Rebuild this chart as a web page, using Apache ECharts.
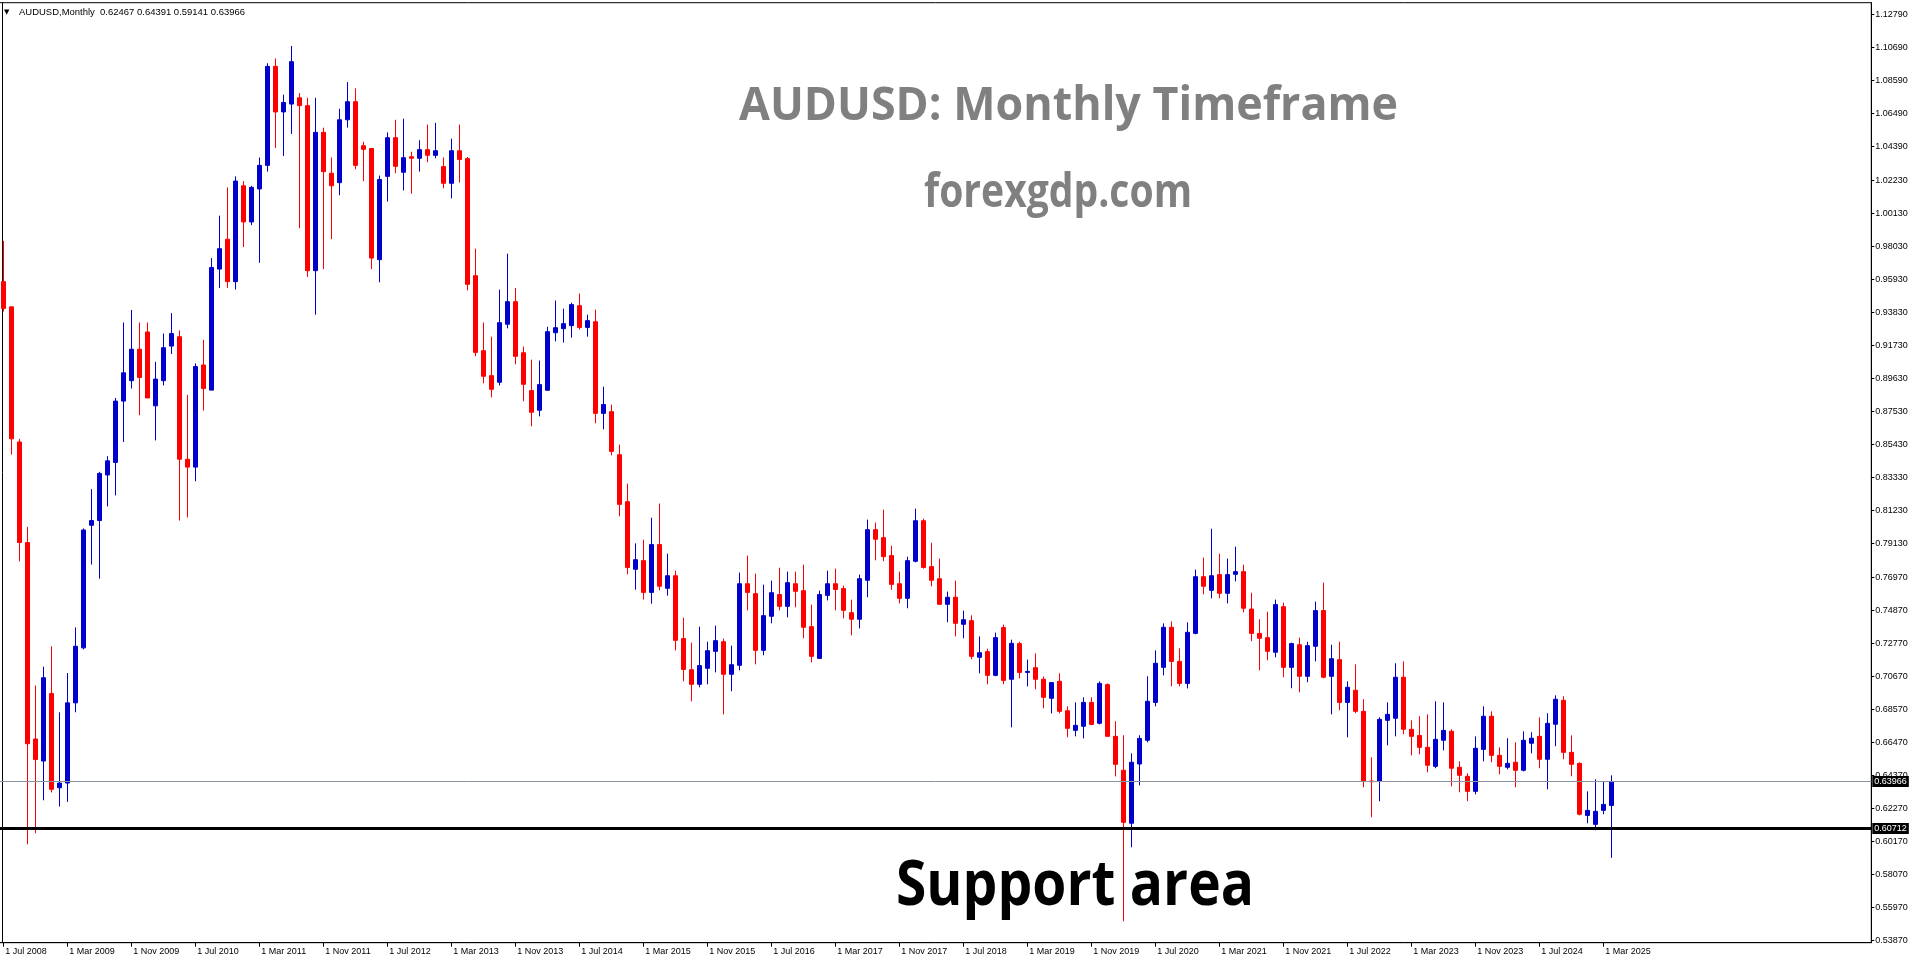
<!DOCTYPE html>
<html><head><meta charset="utf-8">
<script src="https://cdn.jsdelivr.net/npm/echarts@6/dist/echarts.min.js"></script>
<style>html,body{margin:0;padding:0;background:#fff;overflow:hidden}#c{width:1916px;height:964px}</style>
</head><body><div id="c"></div>
<script>
// ---------- DATA ----------
const monthNames = ['Jan','Feb','Mar','Apr','May','Jun','Jul','Aug','Sep','Oct','Nov','Dec'];
const firstYear = 2008, firstMonthIdx = 6; // 1 Jul 2008
const barCount = 202;                       // Jul 2008 .. Apr 2025
const categories = [];
for (let i = 0; i < barCount; i++) {
  const m = firstMonthIdx + i;
  categories.push('1 ' + monthNames[m % 12] + ' ' + (firstYear + Math.floor(m / 12)));
}
const opens = [
0.958,0.942,0.856,0.792,0.667,0.653,0.696,0.636,0.639,0.690,0.725,0.803,0.806,0.835,0.843,0.882,0.895,0.915,0.926,0.879,
0.895,0.917,0.923,0.845,0.840,0.905,0.889,0.966,0.985,0.958,1.019,0.996,1.017,1.032,1.095,1.066,1.071,1.075,1.070,0.965,
1.053,1.027,1.021,1.061,1.0725,1.0445,1.0427,0.972,1.025,1.0496,1.0276,1.0375,1.0365,1.042,1.0384,1.0312,1.0206,1.0413,1.0363,0.9618,
0.9141,0.8982,0.894,0.9309,0.9453,0.9128,0.8887,0.8762,0.8889,0.9255,0.9281,0.930,0.9427,0.9289,0.9325,0.8742,0.8753,0.8479,0.818,0.775,
0.7805,0.7603,0.7907,0.7629,0.7709,0.7309,0.7111,0.7018,0.712,0.7228,0.7289,0.7082,0.7139,0.7658,0.7595,0.7234,0.7451,0.7589,0.7514,0.7658,
0.7614,0.7385,0.7183,0.7584,0.7658,0.7627,0.7474,0.7432,0.768,0.8002,0.7951,0.7837,0.7658,0.7565,0.7801,0.8059,0.7767,0.769,0.7527,0.7572,
0.74,0.7423,0.719,0.7226,0.7075,0.7379,0.705,0.7277,0.7094,0.7124,0.705,0.6929,0.7037,0.685,0.6725,0.6751,0.6903,0.677,0.7016,0.6687,
0.6471,0.6134,0.6511,0.6662,0.6903,0.7126,0.7381,0.7164,0.7024,0.7342,0.7703,0.7616,0.7716,0.7597,0.7718,0.7735,0.7497,0.7342,0.7315,0.7222,
0.7512,0.7126,0.727,0.7069,0.726,0.7487,0.7069,0.7175,0.6903,0.698,0.6846,0.6403,0.6403,0.6789,0.6802,0.7063,0.6732,0.6693,0.6617,0.6496,
0.6662,0.6719,0.649,0.6433,0.6337,0.6604,0.6815,0.6566,0.649,0.6522,0.6471,0.6643,0.6687,0.6541,0.6764,0.6916,0.6585,0.6515,0.6184,0.6127,
0.6216,0.62467];
const highs = [
0.984,0.942,0.858,0.802,0.701,0.713,0.726,0.684,0.709,0.738,0.801,0.826,0.837,0.847,0.884,0.932,0.940,0.932,0.932,0.907,
0.925,0.938,0.927,0.886,0.906,0.921,0.973,1.000,1.018,1.025,1.022,1.019,1.037,1.097,1.100,1.077,1.108,1.078,1.075,1.075,
1.056,1.037,1.068,1.085,1.081,1.047,1.043,1.0255,1.053,1.061,1.0617,1.0407,1.048,1.058,1.059,1.037,1.049,1.058,1.0373,0.979,
0.932,0.923,0.9529,0.9758,0.954,0.9167,0.9084,0.9078,0.9293,0.946,0.9408,0.9446,0.9504,0.937,0.9402,0.8912,0.8798,0.8543,0.8295,0.7915,
0.7938,0.8078,0.8168,0.7849,0.7741,0.7442,0.7283,0.7385,0.7289,0.7391,0.7309,0.7264,0.7729,0.7837,0.7722,0.7652,0.7678,0.776,0.7735,0.7735,
0.7779,0.7525,0.7614,0.7741,0.7754,0.7646,0.7557,0.7716,0.8066,0.8047,0.8129,0.79,0.7735,0.783,0.8136,0.8072,0.7919,0.7818,0.7608,0.7678,
0.7487,0.7457,0.7323,0.7245,0.7347,0.7398,0.7302,0.7289,0.7175,0.7215,0.7067,0.7031,0.7088,0.6878,0.6903,0.6935,0.6935,0.7037,0.7024,0.6783,
0.6694,0.6579,0.6694,0.7069,0.7234,0.7406,0.7419,0.7247,0.7412,0.7748,0.7824,0.8008,0.7849,0.7818,0.7894,0.7779,0.7601,0.7432,0.748,0.7557,
0.7538,0.7283,0.7315,0.7289,0.7544,0.7665,0.727,0.7289,0.7037,0.7145,0.6923,0.6554,0.6808,0.6903,0.7152,0.7164,0.6789,0.6815,0.6827,0.691,
0.6903,0.6732,0.6528,0.6452,0.6687,0.6878,0.6846,0.6617,0.6675,0.6649,0.6719,0.6713,0.6808,0.6834,0.6948,0.6942,0.6693,0.6522,0.6337,0.6414,
0.6401,0.64391];
const lows = [
0.939,0.848,0.780,0.600,0.607,0.628,0.633,0.624,0.627,0.684,0.724,0.778,0.769,0.815,0.822,0.856,0.890,0.873,0.884,0.857,
0.892,0.912,0.806,0.808,0.831,0.876,0.889,0.954,0.954,0.953,0.980,0.994,0.970,1.028,1.043,1.038,1.052,0.992,0.961,0.937,
0.966,0.985,1.013,1.056,1.0295,1.022,0.966,0.9576,1.009,1.027,1.016,1.014,1.028,1.034,1.0365,1.0174,1.011,1.021,0.9525,0.9105,
0.8933,0.8844,0.892,0.9283,0.9054,0.8819,0.866,0.8723,0.8889,0.920,0.9192,0.9224,0.9275,0.923,0.8679,0.864,0.8475,0.8087,0.7718,0.762,
0.7557,0.7531,0.7616,0.7582,0.7234,0.7037,0.691,0.6999,0.7018,0.7094,0.6827,0.6974,0.7107,0.7489,0.7145,0.7203,0.7406,0.7489,0.7444,0.7508,
0.7311,0.7158,0.7183,0.7552,0.7489,0.7438,0.733,0.7374,0.7572,0.7807,0.7801,0.762,0.7533,0.7502,0.7794,0.7754,0.7642,0.7527,0.7413,0.7323,
0.7311,0.7177,0.7088,0.7018,0.7069,0.7018,0.6744,0.7056,0.7005,0.6986,0.6865,0.6833,0.6833,0.6681,0.6687,0.6674,0.6757,0.6763,0.6687,0.6432,
0.551,0.5981,0.6375,0.6649,0.6878,0.7075,0.7005,0.7005,0.6992,0.7336,0.7591,0.7565,0.7565,0.7533,0.7673,0.7476,0.7292,0.7107,0.7171,0.719,
0.7063,0.6993,0.6967,0.7031,0.7164,0.7056,0.6827,0.6853,0.6681,0.6834,0.6363,0.6172,0.6274,0.663,0.6687,0.67,0.6566,0.6573,0.6458,0.6484,
0.6598,0.6369,0.6331,0.6274,0.6318,0.6528,0.6522,0.6445,0.6477,0.6363,0.6464,0.6579,0.6484,0.635,0.6624,0.6541,0.6433,0.6184,0.6134,0.6089,
0.6191,0.59141];
const closes = [
0.941,0.858,0.792,0.664,0.654,0.706,0.635,0.639,0.690,0.726,0.800,0.806,0.836,0.844,0.882,0.900,0.915,0.897,0.884,0.896,
0.916,0.925,0.845,0.840,0.904,0.890,0.967,0.979,0.958,1.022,0.996,1.018,1.032,1.095,1.066,1.072,1.098,1.070,0.965,1.053,
1.028,1.019,1.061,1.0725,1.032,1.0422,0.973,1.023,1.0496,1.0314,1.0369,1.0365,1.042,1.0384,1.0413,1.0206,1.0413,1.0358,0.9563,0.913,
0.8978,0.8895,0.9319,0.9453,0.9105,0.8927,0.8749,0.8925,0.9262,0.9287,0.9313,0.9434,0.9289,0.9332,0.8742,0.8798,0.850,0.8163,0.7762,0.7811,
0.7603,0.7907,0.7642,0.7709,0.7298,0.7113,0.7018,0.7137,0.7232,0.7296,0.7082,0.7143,0.7658,0.7603,0.7234,0.7455,0.7601,0.7514,0.7665,0.761,
0.7381,0.7196,0.7589,0.7658,0.7622,0.7489,0.7432,0.769,0.8002,0.7941,0.783,0.7654,0.7565,0.7805,0.8059,0.7762,0.768,0.7527,0.7572,0.7406,
0.7429,0.7196,0.7219,0.7075,0.7315,0.7043,0.7279,0.7094,0.7100,0.705,0.6935,0.7029,0.6846,0.6738,0.6757,0.6903,0.6763,0.7024,0.6687,0.6509,
0.614,0.6522,0.6674,0.691,0.7152,0.7381,0.7164,0.7024,0.7349,0.7703,0.7642,0.7709,0.7597,0.7716,0.7735,0.7502,0.7342,0.7311,0.7228,0.7525,
0.7126,0.7277,0.7069,0.7264,0.7487,0.7063,0.7181,0.6903,0.6999,0.6846,0.6403,0.6398,0.6795,0.6827,0.7063,0.6732,0.6687,0.6617,0.6503,0.6668,
0.6725,0.6484,0.6439,0.6337,0.6611,0.6815,0.6566,0.6496,0.6515,0.6471,0.6662,0.6675,0.6541,0.677,0.6923,0.6585,0.6509,0.6191,0.6216,0.621,
0.6254,0.63966];
const yTickLabels = [1.12790,1.10690,1.08590,1.06490,1.04390,1.02230,1.00130,0.98030,0.95930,0.93830,0.91730,0.89630,0.87530,0.85430,
  0.83330,0.81230,0.79130,0.76970,0.74870,0.72770,0.70670,0.68570,0.66470,0.64370,0.62270,0.60170,0.58070,0.55970,0.53870];
const lastPrice = 0.63966;
const supportLevel = 0.60712;
const headerText = 'AUDUSD,Monthly  0.62467 0.64391 0.59141 0.63966';
const titleText = 'AUDUSD: Monthly Timeframe';
const subTitleText = 'forexgdp.com';
const noteText = 'Support area';

// ---------- CHART ----------
const SLOTS = 234;   // visible bar slots (8 px each)
const xCats = categories.slice();
for (let i = categories.length; i < SLOTS; i++) xCats.push('pad' + i);
const candleData = opens.map((o, i) => [o, closes[i], lows[i], highs[i]]);
const isLabelIdx = (i) => i % 8 === 0 && i < categories.length;

const ctx = document.createElement('canvas').getContext('2d');
function fitScale(text, font, target) { ctx.font = font; return target / ctx.measureText(text).width; }

const titleFont = 'bold 46px "Open Sans"';
const noteFont = 'bold 63px "Open Sans"';
const headFont = '9px "Liberation Sans"';

const chart = echarts.init(document.getElementById('c'), null, {renderer: 'canvas', width: 1916, height: 964});
chart.setOption({
  animation: false,
  backgroundColor: '#ffffff',
  grid: {left: -0.7, top: 2.7, width: 1872, height: 940, show: true, borderColor: '#000', borderWidth: 1,
         backgroundColor: 'transparent', containLabel: false, outerBoundsMode: 'none'},
  xAxis: {
    type: 'category', data: xCats, boundaryGap: true,
    axisLine: {show: true, lineStyle: {color: '#000', width: 1}},
    axisTick: {show: true, length: 4, alignWithLabel: true, interval: (i) => isLabelIdx(i), lineStyle: {color: '#000'}},
    axisLabel: {show: true, interval: (i) => isLabelIdx(i), align: 'left', margin: 4, padding: [0, 0, 0, 2],
                color: '#000', fontSize: 9, fontFamily: 'Liberation Sans'},
    splitLine: {show: false}
  },
  yAxis: {
    type: 'value', position: 'right', min: 0.5374, max: 1.1355, scale: true,
    axisLine: {show: true, lineStyle: {color: '#000', width: 1}},
    axisTick: {show: true, length: 3, customValues: yTickLabels, lineStyle: {color: '#000'}},
    axisLabel: {show: true, customValues: yTickLabels, margin: 4, color: '#000', fontSize: 9,
                fontFamily: 'Liberation Sans', formatter: (v) => v.toFixed(5)},
    splitLine: {show: false}
  },
  series: [{
    type: 'candlestick', data: candleData, barWidth: 4,
    itemStyle: {color: '#0000CD', color0: '#FF0000', borderColor: '#0000CD', borderColor0: '#FF0000', borderWidth: 1},
    markLine: {
      silent: true, symbol: ['none', 'none'], animation: false,
      data: [
        {yAxis: lastPrice, lineStyle: {color: '#8a94a0', width: 1, type: 'solid'},
         label: {show: true, position: 'end', distance: 1, formatter: lastPrice.toFixed(5), color: '#fff',
                 backgroundColor: '#000', padding: [1, 2, 1, 2], fontSize: 9, fontFamily: 'Liberation Sans'}},
        {yAxis: supportLevel, lineStyle: {color: '#000', width: 3, type: 'solid'},
         label: {show: true, position: 'end', distance: 1, formatter: supportLevel.toFixed(5), color: '#fff',
                 backgroundColor: '#000', padding: [1, 2, 1, 2], fontSize: 9, fontFamily: 'Liberation Sans'}}
      ]
    }
  }],
  graphic: [
    {type: 'line', shape: {x1: 2.5, y1: 2.5, x2: 2.5, y2: 942.5}, style: {stroke: '#000', lineWidth: 1}, z: 1},
    {type: 'text', x: 4, y: 12, style: {text: '▼', font: '7px "DejaVu Sans"', fill: '#000', verticalAlign: 'middle'}, z: 10},
    {type: 'text', x: 19, y: 12.5, scaleX: fitScale(headerText, headFont, 226),
     style: {text: headerText, font: headFont, fill: '#000', verticalAlign: 'middle'}, z: 10},
    {type: 'text', x: 739, y: 107, scaleX: fitScale(titleText, titleFont, 659),
     style: {text: titleText, font: titleFont, fill: '#808080', verticalAlign: 'middle'}, z: 10},
    {type: 'text', x: 924, y: 193.5, scaleX: fitScale(subTitleText, titleFont, 268),
     style: {text: subTitleText, font: titleFont, fill: '#808080', verticalAlign: 'middle'}, z: 10},
    {type: 'text', x: 896, y: 887.5, scaleX: fitScale(noteText, noteFont, 358),
     style: {text: noteText, font: noteFont, fill: '#000', verticalAlign: 'middle'}, z: 10}
  ]
});
</script>
</body></html>
